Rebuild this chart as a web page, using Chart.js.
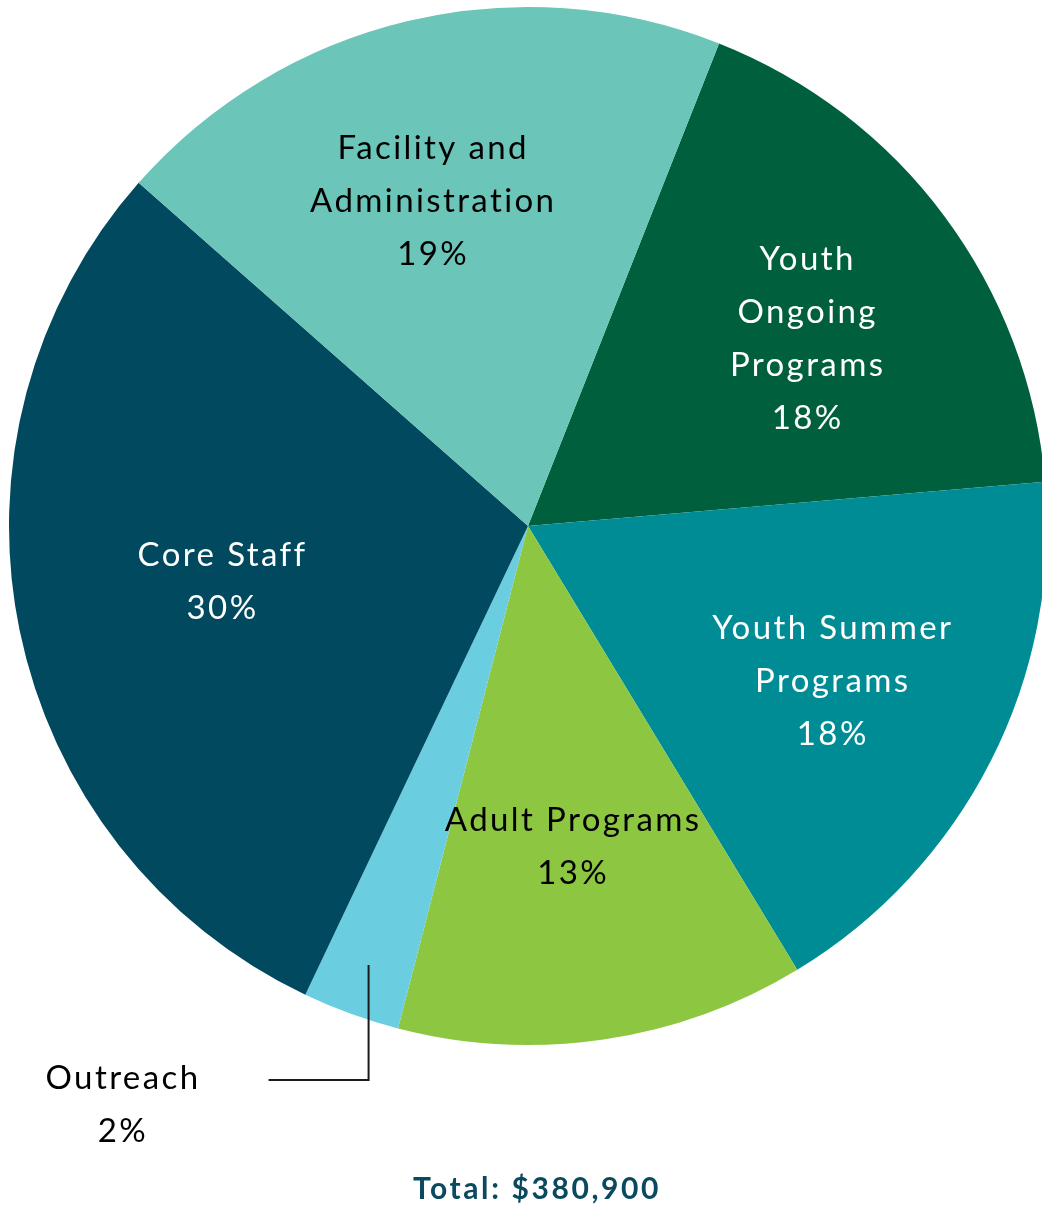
<!DOCTYPE html>
<html>
<head>
<meta charset="utf-8">
<script src="https://cdn.jsdelivr.net/npm/chart.js@4.4.1/dist/chart.umd.min.js"></script>
<style>
  html, body { margin: 0; padding: 0; background: #ffffff; overflow: hidden; }
  #wrap { position: relative; width: 1042px; height: 1210px; overflow: hidden; }
  #chartBudget { position: absolute; left: 0; top: 0; }
</style>
</head>
<body>
<div id="wrap">
  <canvas id="chartBudget" width="1056" height="1210"></canvas>
</div>
<script>
// Dados do gráfico (ordem horária a partir do topo)
const categorias = [
    ['Youth', 'Ongoing', 'Programs'],
    ['Youth Summer', 'Programs'],
    ['Adult Programs'],
    ['Outreach'],
    ['Core Staff'],
    ['Facility and', 'Administration']
];
const valores = [67190, 67340, 48410, 11540, 112140, 74280];
const percentuais = ['18%', '18%', '13%', '2%', '30%', '19%'];
const cores = ['#00603d', '#008c95', '#8dc641', '#6acde0', '#00495e', '#6bc5b8'];
const coresTexto = ['#ffffff', '#ffffff', '#000000', '#000000', '#ffffff', '#000000'];
const totalTexto = 'Total: $380,900';

// Plugin para desenhar os rótulos dentro das fatias
const rotulosPlugin = {
    id: 'rotulos',
    afterDraw(chart, args, opts) {
        const ctx = chart.ctx;
        const arcs = chart.getDatasetMeta(0).data;
        ctx.save();
        ctx.font = '33px Lato';
        ctx.letterSpacing = '2.4px';
        ctx.textAlign = 'center';
        ctx.textBaseline = 'middle';
        const lh = 53;

        arcs.forEach((arc, i) => {
            const mid = (arc.startAngle + arc.endAngle) / 2;
            const linhas = categorias[i].concat([percentuais[i]]);
            let x, y;
            if (i === opts.externo) {
                // linha guia para a fatia pequena
                const r0 = arc.outerRadius * 0.9;
                const x0 = arc.x + Math.cos(mid) * r0;
                const y0 = arc.y + Math.sin(mid) * r0;
                ctx.strokeStyle = '#1a1a1a';
                ctx.lineWidth = 2;
                ctx.beginPath();
                ctx.moveTo(x0, y0);
                ctx.lineTo(x0, 1080);
                ctx.lineTo(x0 - 100, 1080);
                ctx.stroke();
                x = 123;
                y = 1104.5;
            } else {
                const r = arc.outerRadius * 0.65;
                const ajuste = opts.ajustes[i] || [0, 0];
                x = arc.x + Math.cos(mid) * r + ajuste[0];
                y = arc.y + Math.sin(mid) * r + ajuste[1];
            }
            ctx.fillStyle = coresTexto[i];
            const y0 = y - (linhas.length - 1) * lh / 2;
            linhas.forEach((t, k) => ctx.fillText(t, x, y0 + k * lh));
        });

        // total
        ctx.font = 'bold 30px Lato';
        ctx.letterSpacing = '2.6px';
        ctx.fillStyle = '#0b4a5e';
        ctx.fillText(totalTexto, 537, 1189);
        ctx.restore();
    }
};

const ctx = document.getElementById('chartBudget');
new Chart(ctx, {
    type: 'pie',
    data: {
        labels: categorias.map(c => c.join(' ')),
        datasets: [{
            data: valores,
            backgroundColor: cores,
            borderWidth: 0
        }]
    },
    options: {
        responsive: false,
        animation: false,
        rotation: 21.6,
        layout: { padding: { left: 9, right: 9, top: 7, bottom: 165 } },
        plugins: {
            legend: { display: false },
            tooltip: { enabled: false },
            rotulos: {
                externo: 3,
                ajustes: { 0: [9, 14], 1: [4, 3], 2: [-4, -13], 4: [25, -12], 5: [-16, 3] }
            }
        }
    },
    plugins: [rotulosPlugin]
});
</script>
</body>
</html>
